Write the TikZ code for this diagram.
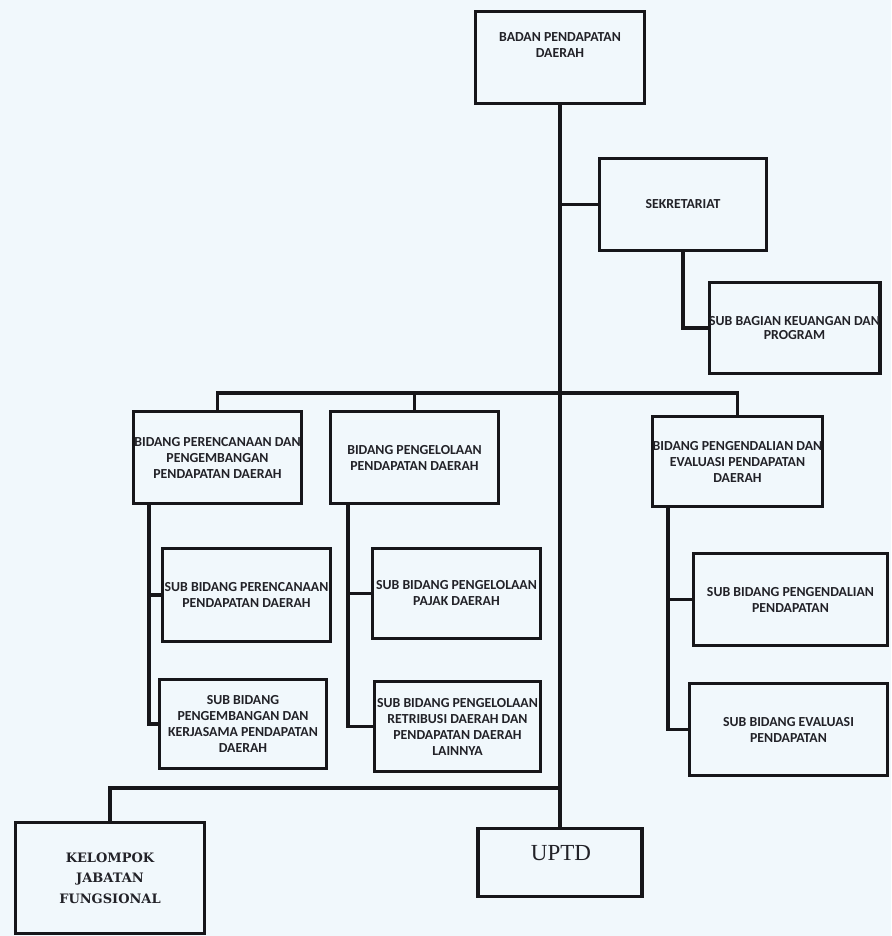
\documentclass[tikz,border=0pt]{standalone}
\usepackage{fontspec}
\setmainfont{Carlito}
\newfontfamily\kelfont{DejaVu Serif}
\newfontfamily\uptdfont{Liberation Serif}
\definecolor{bg}{RGB}{241,248,252}
\definecolor{ink}{RGB}{22,22,26}
\definecolor{txt}{RGB}{34,34,40}
\tikzset{
  orgbox/.style={draw=ink, fill=bg, line width=3.2pt, inner sep=0pt, align=center,
    text=txt, font=\fontsize{13.8}{16}\selectfont\bfseries},
  boxlabel/.style={inner sep=0pt, align=center, text=txt, font=\fontsize{13.8}{16}\selectfont\bfseries},
  link/.style={draw=ink, line width=3.2pt, line cap=rect},
}
\begin{document}
\begin{tikzpicture}[x=1pt,y=-1pt]
\fill[bg] (0,0) rectangle (891,936);
\useasboundingbox (0,0) rectangle (891,936);

% boxes
\node[orgbox, minimum width=169pt, minimum height=92pt] (badan) at (560,57.5) {};
\node[boxlabel] (badanT) at (560,45) {BADAN PENDAPATAN\\DAERAH};
\node[orgbox, minimum width=167pt, minimum height=92pt] (sek) at (683,204.5) {SEKRETARIAT};
\node[orgbox, minimum width=170pt, minimum height=91pt, font=\fontsize{13.8}{14}\selectfont\bfseries] (subbag) at (794.5,328) {SUB BAGIAN KEUANGAN DAN\\PROGRAM};

\node[orgbox, minimum width=168pt, minimum height=92pt] (b1) at (217.5,457.5) {BIDANG PERENCANAAN DAN\\PENGEMBANGAN\\PENDAPATAN DAERAH};
\node[orgbox, minimum width=168pt, minimum height=92pt] (b2) at (414.5,457.5) {BIDANG PENGELOLAAN\\PENDAPATAN DAERAH};
\node[orgbox, minimum width=168pt, minimum height=90pt] (b3) at (737.5,461.5) {BIDANG PENGENDALIAN DAN\\EVALUASI PENDAPATAN\\DAERAH};

\node[orgbox, minimum width=168pt, minimum height=93pt] (s1a) at (246.5,595) {SUB BIDANG PERENCANAAN\\PENDAPATAN DAERAH};
\node[orgbox, minimum width=167pt, minimum height=89pt] (s1b) at (243,724) {SUB BIDANG\\PENGEMBANGAN DAN\\KERJASAMA PENDAPATAN\\DAERAH};
\node[orgbox, minimum width=168pt, minimum height=90pt] (s2a) at (456.5,593.5) {SUB BIDANG PENGELOLAAN\\PAJAK DAERAH};
\node[orgbox, minimum width=166pt, minimum height=90pt] (s2b) at (457.5,726.5) {SUB BIDANG PENGELOLAAN\\RETRIBUSI DAERAH DAN\\PENDAPATAN DAERAH\\LAINNYA};
\node[orgbox, minimum width=194pt, minimum height=92pt] (s3a) at (790.5,599.5) {SUB BIDANG PENGENDALIAN\\PENDAPATAN};
\node[orgbox, minimum width=198pt, minimum height=92pt] (s3b) at (788.5,729.5) {SUB BIDANG EVALUASI\\PENDAPATAN};

\node[orgbox, minimum width=189pt, minimum height=111pt, font=\kelfont\bfseries\fontsize{13}{20.5}\selectfont] (kel) at (110,878) {KELOMPOK\\JABATAN\\FUNGSIONAL};
\node[orgbox, minimum width=164pt, minimum height=68pt] (uptd) at (560,862.5) {};
\node[inner sep=0pt, text=txt, font=\uptdfont\fontsize{23}{26}\selectfont] (uptdT) at (561,853) {UPTD};

% connectors
\draw[link] (badan.south) -- (uptd.north);
\draw[link] (sek.west) -- (sek.west -| badan.south);
\draw[link] (sek.south) |- (subbag.west);

\coordinate (bus) at (400,393);
\draw[link] (b1.north) |- (bus) -| (b3.north);
\draw[link] (b2.north) -- (b2.north |- bus);

\coordinate (c1) at ([xshift=-68.5pt]b1.south);
\draw[link] (c1) |- (s1b.west);
\draw[link] (c1 |- s1a.west) -- (s1a.west);
\coordinate (c2) at ([xshift=-66.5pt]b2.south);
\draw[link] (c2) |- (s2b.west);
\draw[link] (c2 |- s2a.west) -- (s2a.west);
\coordinate (c3) at ([xshift=-69.5pt]b3.south);
\draw[link] (c3) |- (s3b.west);
\draw[link] (c3 |- s3a.west) -- (s3a.west);

\coordinate (bbus) at (560,788);
\draw[link] (bbus) -| (kel.north);
\end{tikzpicture}
\end{document}
